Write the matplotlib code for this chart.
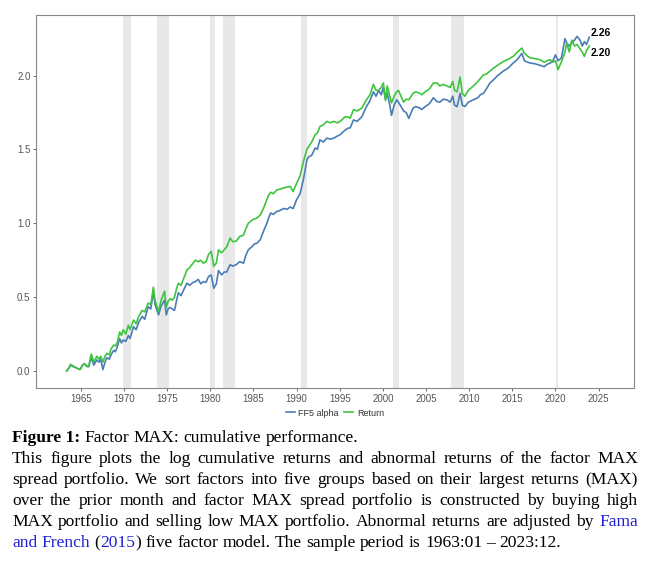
import matplotlib
matplotlib.use('Agg')
import matplotlib.pyplot as plt
from matplotlib.lines import Line2D

# decimal years, cumulative log returns
years = [1963.35, 1963.6, 1963.8, 1964.1, 1964.5, 1964.9, 1965.2, 1965.4, 1965.7, 1965.9,
         1966.2, 1966.5, 1966.85, 1967.1, 1967.3, 1967.55, 1967.8, 1968.0, 1968.3, 1968.5,
         1968.8, 1969.0, 1969.2, 1969.5, 1969.7, 1969.9, 1970.2, 1970.5, 1970.7, 1971.1,
         1971.4, 1971.7, 1972.1, 1972.4, 1972.8, 1973.1, 1973.4, 1973.6, 1974.0, 1974.3,
         1974.7, 1974.9, 1975.1, 1975.35, 1975.6, 1975.85, 1976.1, 1976.3, 1976.6, 1977.0,
         1977.3, 1977.6, 1978.0, 1978.25, 1978.6, 1978.9, 1979.2, 1979.5, 1979.8, 1980.1,
         1980.4, 1980.7, 1980.95, 1981.3, 1981.6, 1981.9, 1982.3, 1982.6, 1983.0, 1983.4,
         1983.85, 1984.1, 1984.4, 1984.8, 1985.1, 1985.4, 1985.8, 1986.15, 1986.55, 1986.75,
         1987.0, 1987.3, 1987.7, 1988.0, 1988.5, 1988.9, 1989.25, 1989.6, 1990.0, 1990.4,
         1990.8, 1991.2, 1991.4, 1991.75, 1992.15, 1992.4, 1992.7, 1993.1, 1993.5, 1993.9,
         1994.3, 1994.7, 1995.05, 1995.6, 1996.0, 1996.2, 1996.6, 1997.0, 1997.55, 1998.1,
         1998.5, 1998.9, 1999.2, 1999.5, 1999.8, 2000.05, 2000.3, 2000.5, 2000.8, 2001.0,
         2001.3, 2001.6, 2001.8, 2002.1, 2002.4, 2002.7, 2003.0, 2003.5, 2003.8, 2004.3,
         2004.5, 2004.9, 2005.4, 2005.85, 2006.25, 2006.6, 2007.0, 2007.4, 2007.8, 2008.1,
         2008.3, 2008.6, 2008.95, 2009.2, 2009.5, 2009.9, 2010.5, 2011.0, 2011.3, 2011.65,
         2012.0, 2012.4, 2012.8, 2013.3, 2013.95, 2014.5, 2015.1, 2015.6, 2016.1, 2016.4,
         2016.8, 2017.05, 2017.6, 2018.2, 2018.7, 2019.0, 2019.4, 2019.7, 2020.0, 2020.3,
         2020.7, 2021.1, 2021.3, 2021.6, 2021.9, 2022.2, 2022.5, 2022.85, 2023.1, 2023.35,
         2023.6, 2023.92]

ff5_alpha = [0.00, 0.02, 0.04, 0.03, 0.02, 0.01, 0.04, 0.05, 0.03, 0.03,
             0.09, 0.04, 0.075, 0.06, 0.08, 0.01, 0.06, 0.09, 0.08, 0.11,
             0.14, 0.13, 0.16, 0.22, 0.19, 0.21, 0.20, 0.24, 0.22, 0.30,
             0.28, 0.33, 0.37, 0.35, 0.435, 0.42, 0.537, 0.45, 0.38, 0.44,
             0.48, 0.38, 0.42, 0.43, 0.42, 0.41, 0.48, 0.53, 0.51, 0.56,
             0.595, 0.58, 0.60, 0.605, 0.62, 0.59, 0.605, 0.60, 0.64, 0.65,
             0.56, 0.59, 0.68, 0.65, 0.67, 0.67, 0.72, 0.71, 0.72, 0.74,
             0.73, 0.78, 0.82, 0.84, 0.86, 0.865, 0.89, 0.944, 1.00, 1.035,
             1.07, 1.06, 1.08, 1.085, 1.10, 1.095, 1.11, 1.10, 1.16, 1.20,
             1.30, 1.43, 1.45, 1.46, 1.51, 1.50, 1.565, 1.55, 1.576, 1.57,
             1.576, 1.59, 1.60, 1.63, 1.645, 1.645, 1.70, 1.69, 1.72, 1.79,
             1.83, 1.89, 1.86, 1.90, 1.87, 1.92, 1.84, 1.88, 1.80, 1.73,
             1.80, 1.836, 1.82, 1.79, 1.76, 1.75, 1.71, 1.78, 1.79, 1.78,
             1.77, 1.79, 1.81, 1.85, 1.825, 1.82, 1.84, 1.836, 1.82, 1.86,
             1.80, 1.79, 1.88, 1.80, 1.79, 1.82, 1.836, 1.85, 1.87, 1.88,
             1.91, 1.95, 1.97, 2.00, 2.03, 2.05, 2.085, 2.11, 2.15, 2.10,
             2.09, 2.085, 2.08, 2.07, 2.06, 2.075, 2.085, 2.10, 2.14, 2.10,
             2.12, 2.25, 2.22, 2.20, 2.22, 2.24, 2.265, 2.24, 2.20, 2.23,
             2.21, 2.26]

ret = [0.00, 0.02, 0.045, 0.035, 0.02, 0.01, 0.04, 0.05, 0.035, 0.03,
       0.115, 0.06, 0.10, 0.08, 0.10, 0.06, 0.10, 0.12, 0.11, 0.15,
       0.175, 0.17, 0.19, 0.265, 0.24, 0.28, 0.25, 0.31, 0.28, 0.345,
       0.32, 0.37, 0.41, 0.40, 0.46, 0.45, 0.567, 0.48, 0.40, 0.48,
       0.54, 0.43, 0.47, 0.49, 0.48, 0.50, 0.56, 0.594, 0.58, 0.64,
       0.684, 0.70, 0.73, 0.75, 0.74, 0.75, 0.73, 0.74, 0.79, 0.81,
       0.71, 0.73, 0.82, 0.80, 0.82, 0.84, 0.90, 0.875, 0.88, 0.91,
       0.92, 0.96, 1.00, 1.02, 1.03, 1.035, 1.057, 1.10, 1.16, 1.19,
       1.21, 1.20, 1.226, 1.23, 1.24, 1.245, 1.25, 1.215, 1.27, 1.32,
       1.42, 1.50, 1.52, 1.55, 1.60, 1.61, 1.655, 1.667, 1.69, 1.68,
       1.69, 1.68, 1.69, 1.72, 1.72, 1.71, 1.77, 1.76, 1.78, 1.836,
       1.87, 1.94, 1.90, 1.90, 1.92, 1.95, 1.83, 1.93, 1.86, 1.815,
       1.86, 1.89, 1.90, 1.86, 1.82, 1.84, 1.836, 1.88, 1.89, 1.88,
       1.87, 1.89, 1.91, 1.95, 1.95, 1.93, 1.94, 1.93, 1.92, 1.96,
       1.90, 1.89, 1.99, 1.88, 1.86, 1.90, 1.93, 1.96, 1.98, 2.005,
       2.01, 2.03, 2.05, 2.07, 2.095, 2.11, 2.13, 2.16, 2.186, 2.15,
       2.13, 2.12, 2.115, 2.107, 2.09, 2.10, 2.107, 2.09, 2.10, 2.04,
       2.095, 2.16, 2.22, 2.16, 2.24, 2.20, 2.21, 2.18, 2.16, 2.13,
       2.17, 2.20]

# NBER recessions (start, end)
recessions = [(1969.92, 1970.83), (1973.83, 1975.17), (1980.0, 1980.5),
              (1981.5, 1982.83), (1990.5, 1991.17), (2001.17, 2001.83),
              (2007.92, 2009.42), (2020.08, 2020.25)]

x_ticks = [1965, 1970, 1975, 1980, 1985, 1990, 1995, 2000, 2005, 2010, 2015, 2020, 2025]
y_ticks = [0.0, 0.5, 1.0, 1.5, 2.0]

BLUE = '#4a7db5'
GREEN = '#3ec43e'
SANS = ['Liberation Sans', 'DejaVu Sans']
SERIF = ['Liberation Serif', 'DejaVu Serif']

fig = plt.figure(figsize=(6.54, 5.62), dpi=100)
ax = fig.add_axes([36 / 654, 1 - 388 / 562, (634 - 36) / 654, (388 - 15) / 562])

for a, b in recessions:
    ax.axvspan(a, b, color='#e8e8e8', lw=0, zorder=0)

ax.plot(years, ff5_alpha, color=BLUE, lw=1.2, zorder=2)
ax.plot(years, ret, color=GREEN, lw=1.2, zorder=3)

ax.text(years[-1] + 0.2, ff5_alpha[-1] + 0.03, f'{ff5_alpha[-1]:.2f}', fontsize=7.5,
        fontweight='bold', family=SANS, va='center', ha='left')
ax.text(years[-1] + 0.2, ret[-1] - 0.05, f'{ret[-1]:.2f}', fontsize=7.5,
        fontweight='bold', family=SANS, va='center', ha='left')

ax.set_xlim(1959.8, 2029.1)
ax.set_ylim(-0.115, 2.41)
ax.set_xticks(x_ticks)
ax.set_yticks(y_ticks)
ax.set_yticklabels([f'{v:.1f}' for v in y_ticks])
ax.tick_params(labelsize=7, colors='#555555', length=2, width=0.6, pad=2)
for lab in ax.get_xticklabels() + ax.get_yticklabels():
    lab.set_family(SANS)
for s in ax.spines.values():
    s.set_color('#888888')
    s.set_linewidth(0.8)

handles = [Line2D([], [], color=BLUE, lw=1.2), Line2D([], [], color=GREEN, lw=1.2)]
fig.legend(handles, ['FF5 alpha', 'Return'], loc='center', bbox_to_anchor=(0.512, 1 - 413 / 562),
           ncol=2, frameon=False, prop={'family': SANS, 'size': 6.5}, handlelength=1.0,
           handletextpad=0.4, columnspacing=0.6, labelcolor='#333333')

# caption, justified by hand
FS = 12.6
LINK = '#2020d8'
K = '#000000'
caption = [
    ([[('Figure 1:', K, 'bold')], [('Factor', K, 'normal')], [('MAX:', K, 'normal')],
      [('cumulative', K, 'normal')], [('performance.', K, 'normal')]], False),
    ([[(w, K, 'normal')] for w in 'This figure plots the log cumulative returns and abnormal returns of the factor MAX'.split()], True),
    ([[(w, K, 'normal')] for w in 'spread portfolio.  We sort factors into five groups based on their largest returns (MAX)'.split()], True),
    ([[(w, K, 'normal')] for w in 'over the prior month and factor MAX spread portfolio is constructed by buying high'.split()], True),
    ([[(w, K, 'normal')] for w in 'MAX portfolio and selling low MAX portfolio.  Abnormal returns are adjusted by'.split()]
     + [[('Fama', LINK, 'normal')]], True),
    ([[('and', LINK, 'normal')], [('French', LINK, 'normal')],
      [('(', K, 'normal'), ('2015', LINK, 'normal'), (')', K, 'normal')]]
     + [[(w, K, 'normal')] for w in 'five factor model. The sample period is 1963:01 – 2023:12.'.split()], False),
]

fig.canvas.draw()
renderer = fig.canvas.get_renderer()
W, H = 654, 562
left, right = 12, 638


def width_of(t):
    return t.get_window_extent(renderer).width


probe = fig.text(0, 0, 'a a', fontsize=FS, family=SERIF)
probe2 = fig.text(0, 0, 'aa', fontsize=FS, family=SERIF)
space = width_of(probe) - width_of(probe2)
probe.remove()
probe2.remove()

for i, (words, justify) in enumerate(caption):
    yb = 1 - (442 + 21 * i) / H
    groups = []
    for w in words:
        parts = []
        for s, c, b in w:
            t = fig.text(0, yb, s, fontsize=FS, family=SERIF, color=c, fontweight=b, va='baseline')
            parts.append((t, width_of(t)))
        groups.append(parts)
    word_w = [sum(p[1] for p in g) for g in groups]
    if justify and len(groups) > 1:
        gap = (right - left - sum(word_w)) / (len(groups) - 1)
    else:
        gap = space
    x = left
    for g, ww in zip(groups, word_w):
        xx = x
        for t, tw in g:
            t.set_x(xx / W)
            xx += tw
        x += ww + gap

fig.savefig('out.png', dpi=100)
